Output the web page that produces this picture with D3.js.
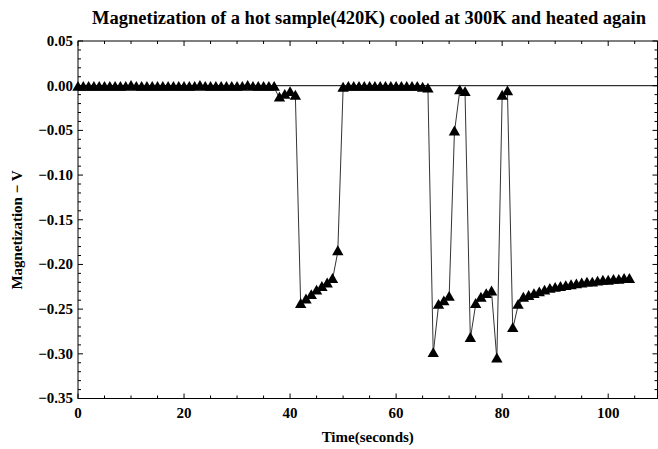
<!DOCTYPE html>
<html><head><meta charset="utf-8">
<script src="https://cdn.jsdelivr.net/npm/d3@7"></script>
<style>body{margin:0;background:#fff}svg{display:block}text{font-family:"Liberation Serif","Times New Roman",serif;font-weight:bold;fill:#000}</style>
</head><body><svg id="c" width="658" height="449"></svg>
<script>
const title = "Magnetization of a hot sample(420K) cooled at 300K and heated again";
const xLabel = "Time(seconds)";
const yLabel = "Magnetization \u2212 V";
const xTicks = [0, 20, 40, 60, 80, 100];
const yTicks = [0.05, 0.00, -0.05, -0.10, -0.15, -0.20, -0.25, -0.30, -0.35];
const times = d3.range(0, 105);
const flatA = [-0.002,-0.002,-0.002,-0.002,-0.002,-0.002,-0.002,-0.002,-0.002,-0.002,
  -0.001,-0.002,-0.002,-0.002,-0.002,-0.002,-0.002,-0.002,-0.002,-0.002,
  -0.002,-0.002,-0.002,-0.001,-0.002,-0.002,-0.002,-0.002,-0.002,-0.002,
  -0.002,-0.002,-0.001,-0.002,-0.002,-0.002,-0.002,-0.002];
const partB = [-0.014,-0.011,-0.008,-0.012,-0.245,-0.240,-0.235,-0.230,-0.226,-0.222,-0.217,-0.186];
const flatC = [-0.003,-0.002,-0.002,-0.002,-0.002,-0.002,-0.002,-0.002,-0.002,-0.002,
  -0.002,-0.002,-0.002,-0.002,-0.002,-0.003,-0.004];
const partD = [-0.300,-0.246,-0.242,-0.237,-0.052,-0.006,-0.008,-0.283,-0.245,-0.238,-0.234,-0.231,
  -0.306,-0.012,-0.007,-0.272,-0.246];
const tailE = [-0.238,-0.236,-0.234,-0.232,-0.230,-0.228,-0.227,-0.226,-0.225,-0.224,-0.223,
  -0.222,-0.221,-0.221,-0.220,-0.219,-0.219,-0.218,-0.218,-0.217,-0.217];
const values = [].concat(flatA, partB, flatC, partD, tailE);
const data = times.map((t, i) => ({t, v: values[i]}));

const svg = d3.select("#c");
const L = 78, R = 657.5, T = 41, B = 398.5;
const x = d3.scaleLinear().domain([0, 109.3]).range([L, R]);
const y = d3.scaleLinear().domain([-0.35, 0.05]).range([B, T]);

const fmtY = v => (v < 0 ? "\u2212" : "") + Math.abs(v).toFixed(2);

const g = svg.append("g").attr("stroke", "#000").attr("stroke-width", 1).attr("fill", "none");
g.append("rect").attr("x", L).attr("y", T).attr("width", R - L).attr("height", B - T);

const xMinor = d3.range(0, 110, 5);
xMinor.forEach(t => {
  const major = t % 20 === 0;
  const len = major ? 5 : 3;
  g.append("line").attr("x1", x(t)).attr("x2", x(t)).attr("y1", B).attr("y2", B - len);
  g.append("line").attr("x1", x(t)).attr("x2", x(t)).attr("y1", T).attr("y2", T + len);
});
const yMinor = d3.range(-35, 6, 1).map(k => k / 100);
yMinor.forEach(v => {
  const major = Math.round(v * 100) % 5 === 0;
  const len = major ? 5 : 3;
  g.append("line").attr("x1", L).attr("x2", L + len).attr("y1", y(v)).attr("y2", y(v));
  g.append("line").attr("x1", R).attr("x2", R - len).attr("y1", y(v)).attr("y2", y(v));
});
g.append("line").attr("x1", L).attr("x2", R).attr("y1", y(0)).attr("y2", y(0));

svg.append("g").selectAll("text").data(xTicks).join("text")
  .attr("x", d => x(d)).attr("y", 418).attr("text-anchor", "middle")
  .attr("font-size", 15).text(d => d);
svg.append("g").selectAll("text").data(yTicks).join("text")
  .attr("x", 73).attr("y", d => y(d)).attr("dy", "0.33em").attr("text-anchor", "end")
  .attr("font-size", 15).text(fmtY);

svg.append("path").datum(data)
  .attr("d", d3.line().x(d => x(d.t)).y(d => y(d.v)))
  .attr("fill", "none").attr("stroke", "#333").attr("stroke-width", 1);
const tri = d3.symbol().type(d3.symbolTriangle).size(56);
svg.append("g").selectAll("path").data(data).join("path")
  .attr("transform", d => `translate(${x(d.t)},${y(d.v)})`)
  .attr("d", tri).attr("fill", "#000");

svg.append("text").attr("x", 369).attr("y", 24).attr("text-anchor", "middle")
  .attr("font-size", 18.5).text(title);
svg.append("text").attr("x", (L + R) / 2).attr("y", 442).attr("text-anchor", "middle")
  .attr("font-size", 15).text(xLabel);
svg.append("text").attr("transform", "translate(22,230) rotate(-90)").attr("text-anchor", "middle")
  .attr("font-size", 15).text(yLabel);
</script></body></html>
